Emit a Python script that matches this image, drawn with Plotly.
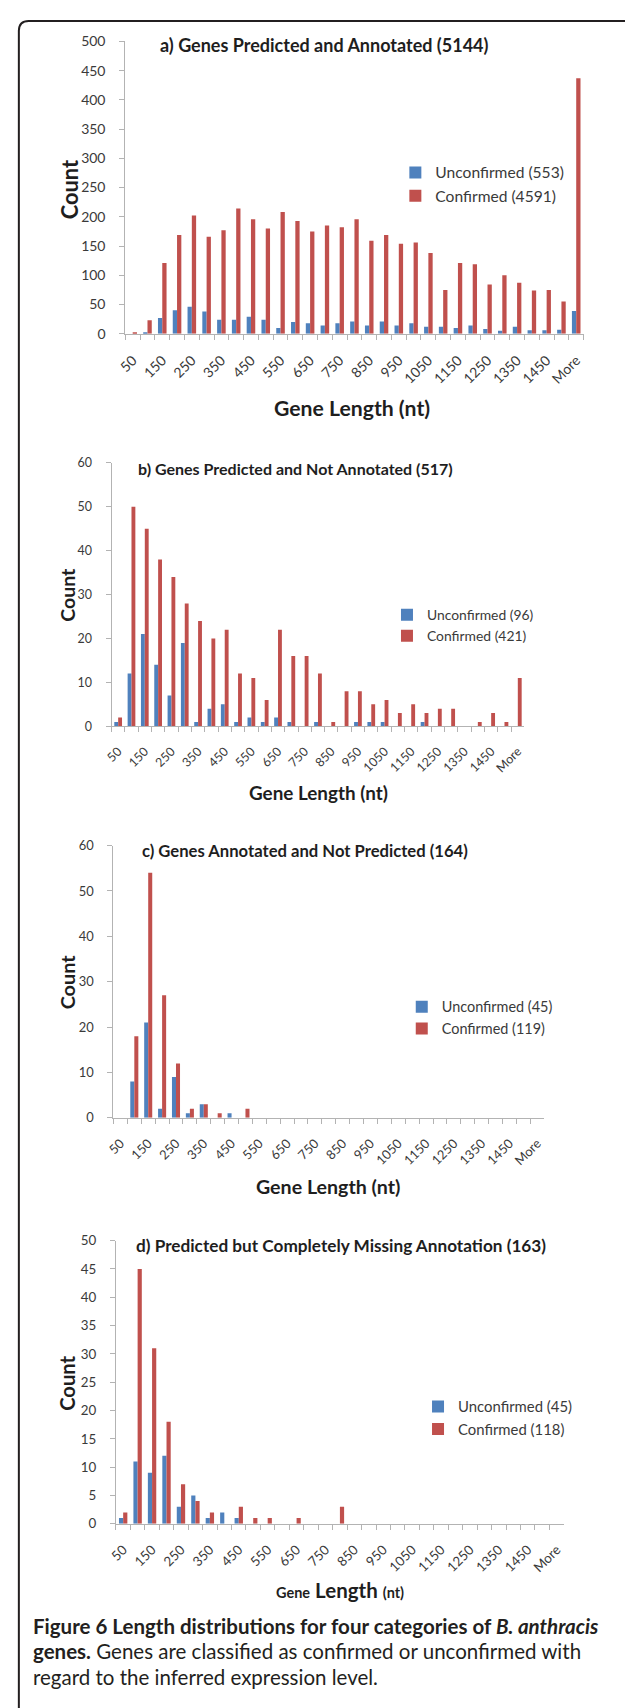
import plotly.graph_objects as go

# ---------------- data ----------------
categories = ["50", "100", "150", "200", "250", "300", "350", "400", "450", "500",
              "550", "600", "650", "700", "750", "800", "850", "900", "950", "1000",
              "1050", "1100", "1150", "1200", "1250", "1300", "1350", "1400", "1450",
              "1500", "More"]

a_unconfirmed = [0, 2, 27, 40, 46, 38, 24, 24, 29, 24, 10, 20, 18, 14, 18, 21, 14, 21, 14, 18,
                 12, 12, 10, 14, 8, 5, 12, 6, 6, 7, 39]
a_confirmed = [1, 23, 121, 169, 202, 166, 177, 214, 196, 180, 208, 193, 175, 185, 182, 196,
               159, 169, 154, 156, 138, 75, 121, 119, 84, 100, 87, 74, 75, 55, 437]

b_unconfirmed = [1, 12, 21, 14, 7, 19, 1, 4, 5, 1, 2, 1, 2, 1, 0, 1, 0, 0, 1, 1, 1, 0, 0, 1,
                 0, 0, 0, 0, 0, 0, 0]
b_confirmed = [2, 50, 45, 38, 34, 28, 24, 20, 22, 12, 11, 6, 22, 16, 16, 12, 1, 8, 8, 5, 6, 3,
               5, 3, 4, 4, 0, 1, 3, 1, 11]

c_unconfirmed = [0, 8, 21, 2, 9, 1, 3, 0, 1, 0, 0, 0, 0, 0, 0, 0, 0, 0, 0, 0, 0, 0, 0, 0,
                 0, 0, 0, 0, 0, 0, 0]
c_confirmed = [0, 18, 54, 27, 12, 2, 3, 1, 0, 2, 0, 0, 0, 0, 0, 0, 0, 0, 0, 0, 0, 0, 0, 0,
               0, 0, 0, 0, 0, 0, 0]

d_unconfirmed = [1, 11, 9, 12, 3, 5, 1, 2, 1, 0, 0, 0, 0, 0, 0, 0, 0, 0, 0, 0, 0, 0, 0, 0,
                 0, 0, 0, 0, 0, 0, 0]
d_confirmed = [2, 45, 31, 18, 7, 4, 2, 0, 3, 1, 1, 0, 1, 0, 0, 3, 0, 0, 0, 0, 0, 0, 0, 0,
               0, 0, 0, 0, 0, 0, 0]

titles = ["a) Genes Predicted and Annotated (5144)",
          "b) Genes Predicted and Not Annotated (517)",
          "c) Genes Annotated and Not Predicted (164)",
          "d) Predicted but Completely Missing Annotation (163)"]
unconfirmed_names = ["Unconfirmed (553)", "Unconfirmed (96)", "Unconfirmed (45)", "Unconfirmed (45)"]
confirmed_names = ["Confirmed (4591)", "Confirmed (421)", "Confirmed (119)", "Confirmed (118)"]
y_max = [500, 60, 60, 50]
y_step = [50, 10, 10, 5]

tick_text = [c if i % 2 == 0 else "" for i, c in enumerate(categories)]

# ---------------- layout helpers ----------------
W, H = 625, 1708
def fx(p): return p / W
def fy(p): return 1 - p / H

FONT = "Lato"
TXT = "#3a3a3a"
DARK = "#1e1e1e"
AX = "#B3B3B3"
BLUE = "#4F81BD"
RED = "#C0504D"

# positions in pixels (x0, x1, y_zero, y_top)
boxes = [(118, 583, 328, 32.7),
         (104, 523, 724.5, 458.5),
         (106, 543, 1120, 845),
         (108.5, 563, 1530, 1244)]
scale = [1.0, 0.89, 0.925, 0.955]        # each sub-chart was pasted at its own size
title_pos = [(320, 36), (291, 464), (300.5, 850), (337, 1249)]
count_pos = [(61, 182), (58.5, 592), (59, 983), (59.5, 1388)]
count_size = [21.9, 19.5, 19.9, 20.2]
xlabel_pos = [(348, 403), (314, 791), (324, 1189), (336, 1597)]
legend_pos = [(392, 177), (383.5, 623), (398.5, 1019), (415, 1423)]

series = [(a_unconfirmed, a_confirmed), (b_unconfirmed, b_confirmed),
          (c_unconfirmed, c_confirmed), (d_unconfirmed, d_confirmed)]

fig = go.Figure()
annotations = []
layout_axes = {}

for i in range(4):
    n = i + 1
    s = scale[i]
    xa = "x" if n == 1 else f"x{n}"
    ya = "y" if n == 1 else f"y{n}"
    lg = "legend" if n == 1 else f"legend{n}"
    unc, conf = series[i]
    fig.add_trace(go.Bar(x=categories, y=unc, name=unconfirmed_names[i], marker_color=BLUE,
                         marker_line_width=0, xaxis=xa, yaxis=ya, legend=lg))
    fig.add_trace(go.Bar(x=categories, y=conf, name=confirmed_names[i], marker_color=RED,
                         marker_line_width=0, xaxis=xa, yaxis=ya, legend=lg))
    x0, x1, yz, yt = boxes[i]
    layout_axes["xaxis" if n == 1 else f"xaxis{n}"] = dict(
        domain=[fx(x0), fx(x1)], anchor=ya, type="category",
        categoryorder="array", categoryarray=categories,
        tickmode="array", tickvals=categories, ticktext=tick_text,
        tickangle=-45, ticks="outside", tickson="boundaries", ticklen=5,
        tickcolor=AX, showline=True, linecolor=AX, linewidth=1, showgrid=False,
        ticklabelstandoff=12,
        tickfont=dict(family=FONT, size=14 * s, color=TXT), range=[-0.5, 30.5])
    layout_axes["yaxis" if n == 1 else f"yaxis{n}"] = dict(
        domain=[fy(yz), fy(yt)], anchor=xa, range=[0, y_max[i]], tick0=0, dtick=y_step[i],
        ticks="outside", ticklen=5, tickcolor=AX, showline=True, linecolor=AX, linewidth=1,
        showgrid=False, zeroline=False, ticklabelstandoff=11,
        tickfont=dict(family=FONT, size=14 * s, color=TXT))
    layout_axes[lg] = dict(x=fx(legend_pos[i][0]), y=fy(legend_pos[i][1]), xanchor="left",
                           yanchor="middle", bgcolor="rgba(0,0,0,0)", traceorder="normal",
                           font=dict(family=FONT, size=15.6 * s, color=TXT))
    tx, ty = title_pos[i]
    annotations.append(dict(text=f"<b>{titles[i]}</b>", x=fx(tx), y=fy(ty), xref="paper",
                            yref="paper", showarrow=False, xanchor="center", yanchor="middle",
                            font=dict(family=FONT, size=18 * s, color=DARK)))
    cx, cy = count_pos[i]
    annotations.append(dict(text="<b>Count</b>", x=fx(cx), y=fy(cy), xref="paper", yref="paper",
                            showarrow=False, textangle=-90, xanchor="center", yanchor="middle",
                            font=dict(family=FONT, size=count_size[i], color=DARK)))
    lx, ly = xlabel_pos[i]
    if n < 4:
        lab = "<b>Gene Length (nt)</b>"
        size = 21.2 * s
    else:
        lab = ("<b><span style='font-size:14.5px'>Gene</span> Length"
               " <span style='font-size:14.5px'>(nt)</span></b>")
        size = 20.5
    annotations.append(dict(text=lab, x=fx(lx), y=fy(ly), xref="paper", yref="paper",
                            showarrow=False, xanchor="center", yanchor="middle",
                            font=dict(family=FONT, size=size, color=DARK)))

caption_lines = ["<b>Figure 6 Length distributions for four categories of <i>B. anthracis</i></b>",
                 "<b>genes.</b> Genes are classified as confirmed or unconfirmed with",
                 "regard to the inferred expression level."]
caption_y = [1633, 1659, 1685]
for t, yy in zip(caption_lines, caption_y):
    annotations.append(dict(text=t, x=fx(22), y=fy(yy), xref="paper", yref="paper",
                            showarrow=False, xanchor="left", yanchor="middle",
                            font=dict(family=FONT, size=20.5, color="#231F20")))

border = (f"M {fx(10)},{fy(1720)} L {fx(10)},{fy(22)} Q {fx(10)},{fy(12)} {fx(20)},{fy(12)} "
          f"L {fx(640)},{fy(12)}")

fig.update_layout(
    width=W, height=H, margin=dict(l=0, r=0, t=0, b=0),
    paper_bgcolor="white", plot_bgcolor="white",
    bargap=0.42, bargroupgap=0.0, barmode="group",
    annotations=annotations,
    shapes=[dict(type="path", path=border, xref="paper", yref="paper",
                 line=dict(color="#231F20", width=2))],
    **layout_axes)

fig.write_html("out.html")
